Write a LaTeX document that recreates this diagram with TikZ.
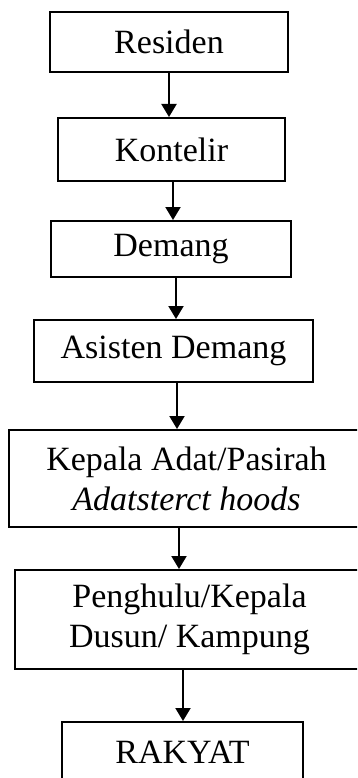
\documentclass[tikz,border=0pt]{standalone}
\usepackage{fontspec}
\setmainfont{Liberation Serif}
\usepackage{tikz}
\usetikzlibrary{arrows.meta, positioning, calc}

\tikzset{
    jabatan/.style={draw, line width=2pt, inner sep=0pt, align=center,
        font=\fontsize{34}{40}\selectfont},
    turun/.style={line width=2pt, -{Triangle[length=13pt,width=15pt]}}
}

\begin{document}
\begin{tikzpicture}[x=1pt, y=-1pt]
        \clip (0,0) rectangle (357,778);

        \node[jabatan, minimum width=238pt, minimum height=60pt] (residen) at (169,42) {Residen};
        \node[jabatan, minimum width=227pt, minimum height=63pt] (kontelir) at (171.5,149.5) {Kontelir};
        \node[jabatan, minimum width=240pt, minimum height=56pt] (demang) at (171,249) {Demang};
        \node[jabatan, minimum width=279pt, minimum height=62pt] (asisten) at (173.5,351) {Asisten Demang};
        \node[jabatan, minimum width=355pt, minimum height=97pt] (pasirah) at (186.5,478.5)
            {Kepala Adat/Pasirah\\\textit{Adatsterct hoods}};
        \node[jabatan, minimum width=349pt, minimum height=99pt] (penghulu) at (189.5,619.5)
            {Penghulu/Kepala\\Dusun/ Kampung};
        \node[jabatan, minimum width=241pt, minimum height=60pt] (rakyat) at (182.5,752) {RAKYAT};

        % garis komando
        \draw[turun] (residen.south) -- (residen.south |- kontelir.north);
        \draw[turun] ($(kontelir.south)+(1.5,0)$) -- ($(kontelir.south |- demang.north)+(1.5,0)$);
        \draw[turun] ($(demang.south)+(5,0)$) -- ($(demang.south |- asisten.north)+(5,0)$);
        \draw[turun] ($(asisten.south)+(3.5,0)$) -- ($(asisten.south |- pasirah.north)+(3.5,0)$);
        \draw[turun] ($(pasirah.south)+(-7.5,0)$) -- ($(pasirah.south |- penghulu.north)+(-7.5,0)$);
        \draw[turun] ($(penghulu.south)+(-6.5,0)$) -- ($(penghulu.south |- rakyat.north)+(-6.5,0)$);
\end{tikzpicture}
\end{document}
